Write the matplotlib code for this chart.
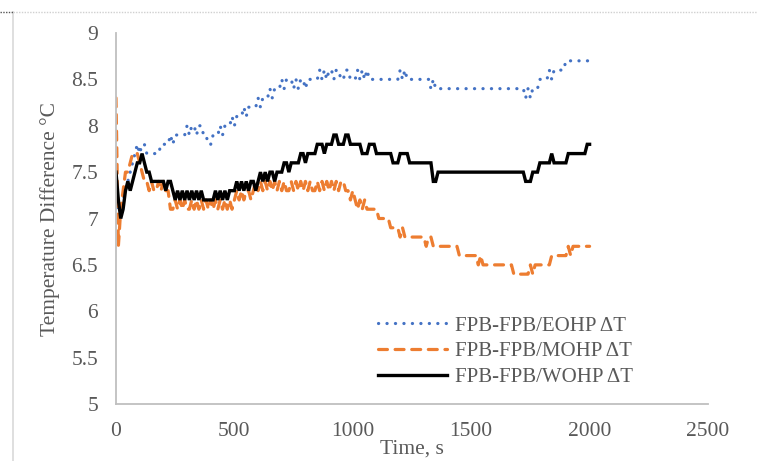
import matplotlib
matplotlib.use("Agg")
import matplotlib.pyplot as plt
from matplotlib.lines import Line2D

# Sampling instants (s)
time_s = list(range(0, 2001, 10))

# FPB-FPB/EOHP temperature difference (°C)
eohp_dt = [
    7.3, 7.1, 7.1, 7.2, 7.3, 7.4, 7.5, 7.6, 7.7, 7.8,
    7.7, 7.8, 7.8, 7.7, 7.7, 7.7, 7.7, 7.7, 7.7, 7.8,
    7.8, 7.8, 7.8, 7.9, 7.8, 7.9, 7.9, 7.9, 7.9, 7.9,
    8.0, 7.9, 8.0, 8.0, 7.9, 8.0, 8.0, 7.9, 7.9, 7.8,
    7.8, 7.9, 7.9, 7.9, 8.0, 7.9, 8.0, 8.0, 8.0, 8.1,
    8.0, 8.1, 8.1, 8.1, 8.2, 8.1, 8.2, 8.2, 8.2, 8.2,
    8.3, 8.2, 8.3, 8.3, 8.3, 8.4, 8.3, 8.4, 8.4, 8.4,
    8.5, 8.4, 8.5, 8.5, 8.5, 8.4, 8.5, 8.4, 8.5, 8.5,
    8.4, 8.5, 8.5, 8.5, 8.5, 8.5, 8.6, 8.5, 8.6, 8.5,
    8.6, 8.6, 8.5, 8.6, 8.6, 8.5, 8.5, 8.6, 8.6, 8.5,
    8.5, 8.5, 8.6, 8.5, 8.6, 8.5, 8.6, 8.5, 8.5, 8.5,
    8.5, 8.5, 8.5, 8.5, 8.5, 8.5, 8.5, 8.5, 8.5, 8.5,
    8.6, 8.5, 8.6, 8.5, 8.5, 8.5, 8.5, 8.5, 8.5, 8.5,
    8.5, 8.5, 8.5, 8.4, 8.5, 8.4, 8.4, 8.4, 8.4, 8.4,
    8.4, 8.4, 8.4, 8.4, 8.4, 8.4, 8.4, 8.4, 8.4, 8.4,
    8.4, 8.4, 8.4, 8.4, 8.4, 8.4, 8.4, 8.4, 8.4, 8.4,
    8.4, 8.4, 8.4, 8.4, 8.4, 8.4, 8.4, 8.4, 8.4, 8.4,
    8.4, 8.4, 8.4, 8.3, 8.4, 8.3, 8.4, 8.4, 8.4, 8.5,
    8.5, 8.5, 8.5, 8.6, 8.5, 8.6, 8.6, 8.6, 8.6, 8.6,
    8.7, 8.7, 8.7, 8.7, 8.7, 8.7, 8.7, 8.7, 8.7, 8.7,
    8.7,
]

# FPB-FPB/MOHP temperature difference (°C)
mohp_dt = [
    8.3, 6.7, 7.1, 7.3, 7.5, 7.5, 7.6, 7.7, 7.7, 7.7,
    7.6, 7.5, 7.4, 7.4, 7.3, 7.4, 7.3, 7.3, 7.4, 7.3,
    7.4, 7.3, 7.3, 7.1, 7.1, 7.2, 7.1, 7.2, 7.1, 7.2,
    7.1, 7.1, 7.2, 7.1, 7.2, 7.1, 7.2, 7.1, 7.2, 7.1,
    7.2, 7.1, 7.2, 7.1, 7.2, 7.1, 7.2, 7.1, 7.2, 7.1,
    7.2, 7.3, 7.2, 7.3, 7.2, 7.3, 7.3, 7.2, 7.3, 7.4,
    7.3, 7.4, 7.3, 7.4, 7.3, 7.4, 7.3, 7.4, 7.3, 7.4,
    7.3, 7.4, 7.3, 7.3, 7.4, 7.3, 7.4, 7.3, 7.4, 7.3,
    7.4, 7.3, 7.4, 7.3, 7.3, 7.4, 7.3, 7.4, 7.3, 7.4,
    7.3, 7.4, 7.3, 7.4, 7.3, 7.4, 7.4, 7.3, 7.3, 7.2,
    7.3, 7.2, 7.1, 7.2, 7.1, 7.2, 7.1, 7.1, 7.1, 7.1,
    7.1, 7.0, 7.0, 7.0, 7.0, 7.0, 6.9, 6.9, 6.9, 6.9,
    6.8, 6.9, 6.8, 6.8, 6.8, 6.8, 6.8, 6.8, 6.8, 6.8,
    6.8, 6.7, 6.8, 6.8, 6.7, 6.7, 6.7, 6.7, 6.7, 6.7,
    6.7, 6.7, 6.7, 6.7, 6.7, 6.6, 6.6, 6.6, 6.6, 6.6,
    6.6, 6.6, 6.6, 6.5, 6.6, 6.5, 6.5, 6.5, 6.5, 6.5,
    6.5, 6.5, 6.5, 6.5, 6.5, 6.5, 6.5, 6.5, 6.4, 6.4,
    6.4, 6.4, 6.4, 6.4, 6.4, 6.5, 6.4, 6.5, 6.5, 6.5,
    6.5, 6.5, 6.5, 6.5, 6.6, 6.6, 6.6, 6.6, 6.6, 6.6,
    6.6, 6.7, 6.6, 6.7, 6.7, 6.7, 6.7, 6.7, 6.7, 6.7,
    6.7,
]

# FPB-FPB/WOHP temperature difference (°C)
wohp_dt = [
    7.5, 7.2, 7.0, 7.1, 7.3, 7.4, 7.3, 7.4, 7.5, 7.6,
    7.6, 7.7, 7.6, 7.5, 7.5, 7.4, 7.4, 7.4, 7.4, 7.4,
    7.4, 7.3, 7.4, 7.4, 7.3, 7.2, 7.3, 7.2, 7.3, 7.2,
    7.3, 7.2, 7.3, 7.2, 7.3, 7.2, 7.3, 7.2, 7.2, 7.2,
    7.2, 7.2, 7.3, 7.2, 7.3, 7.2, 7.3, 7.2, 7.3, 7.3,
    7.3, 7.4, 7.3, 7.4, 7.3, 7.4, 7.3, 7.4, 7.4, 7.3,
    7.4, 7.5, 7.4, 7.5, 7.4, 7.5, 7.5, 7.4, 7.5, 7.5,
    7.5, 7.6, 7.6, 7.5, 7.6, 7.6, 7.6, 7.6, 7.7, 7.7,
    7.6, 7.7, 7.7, 7.7, 7.7, 7.8, 7.8, 7.8, 7.7, 7.8,
    7.8, 7.8, 7.9, 7.9, 7.8, 7.8, 7.8, 7.9, 7.9, 7.8,
    7.8, 7.8, 7.8, 7.8, 7.7, 7.7, 7.7, 7.8, 7.8, 7.8,
    7.7, 7.7, 7.7, 7.7, 7.7, 7.7, 7.7, 7.6, 7.6, 7.6,
    7.7, 7.7, 7.7, 7.7, 7.6, 7.6, 7.6, 7.6, 7.6, 7.6,
    7.6, 7.6, 7.6, 7.6, 7.4, 7.4, 7.5, 7.5, 7.5, 7.5,
    7.5, 7.5, 7.5, 7.5, 7.5, 7.5, 7.5, 7.5, 7.5, 7.5,
    7.5, 7.5, 7.5, 7.5, 7.5, 7.5, 7.5, 7.5, 7.5, 7.5,
    7.5, 7.5, 7.5, 7.5, 7.5, 7.5, 7.5, 7.5, 7.5, 7.5,
    7.5, 7.5, 7.5, 7.4, 7.4, 7.4, 7.5, 7.5, 7.5, 7.6,
    7.6, 7.6, 7.6, 7.6, 7.7, 7.6, 7.6, 7.6, 7.6, 7.6,
    7.6, 7.7, 7.7, 7.7, 7.7, 7.7, 7.7, 7.7, 7.7, 7.8,
    7.8,
]

series_labels = ["FPB-FPB/EOHP ΔT", "FPB-FPB/MOHP ΔT", "FPB-FPB/WOHP ΔT"]
x_ticks = [0, 500, 1000, 1500, 2000, 2500]
y_ticks = [5, 5.5, 6, 6.5, 7, 7.5, 8, 8.5, 9]
y_tick_labels = ["5", "5.5", "6", "6.5", "7", "7.5", "8", "8.5", "9"]

TEXT = "#595959"
FONT = ["Liberation Serif", "DejaVu Serif"]
plt.rcParams["font.family"] = FONT

fig = plt.figure(figsize=(7.57, 4.61), dpi=100)
W, H = 757, 461

# chart-area frame lines
fig.add_artist(Line2D([13 / W, 13 / W], [0, 1 - 12 / H], transform=fig.transFigure,
                      color="#d9d9d9", lw=1.2))
fig.add_artist(Line2D([13 / W, 1], [1 - 12 / H, 1 - 12 / H], transform=fig.transFigure,
                      color="#d0d0d0", lw=1.0, linestyle=(0, (1, 1))))
fig.add_artist(Line2D([0, 13 / W], [1 - 12 / H, 1 - 12 / H], transform=fig.transFigure,
                      color="#555555", lw=1.0, linestyle=(0, (1, 1))))

ax = fig.add_axes([116 / W, 1 - 404 / H, (708 - 116) / W, (404 - 33) / H])

l1, = ax.plot(time_s, eohp_dt, color="#4472C4", lw=2.3,
              linestyle=(0, (0.05, 2.6)), dash_capstyle="round",
              label=series_labels[0])
l2, = ax.plot(time_s, mohp_dt, color="#ED7D31", lw=2.3,
              linestyle=(0, (2.8, 2.4)), dash_capstyle="round",
              label=series_labels[1])
l3, = ax.plot(time_s, wohp_dt, color="black", lw=2.4,
              solid_joinstyle="miter", label=series_labels[2])

ax.set_xlim(0, 2500)
ax.set_ylim(5, 9)
ax.set_xticks(x_ticks)
ax.set_xticklabels([str(v) for v in x_ticks])
ax.set_yticks(y_ticks)
ax.set_yticklabels(y_tick_labels)

for side in ("top", "right"):
    ax.spines[side].set_visible(False)
for side in ("left", "bottom"):
    ax.spines[side].set_color("#bfbfbf")
    ax.spines[side].set_linewidth(1.3)

ax.tick_params(axis="both", length=0, labelsize=15.5, colors=TEXT)
ax.tick_params(axis="x", pad=13)
ax.tick_params(axis="y", pad=13)

ax.set_xlabel("Time, s", fontsize=15.5, color=TEXT, labelpad=-1)
ax.set_ylabel("Temperature Difference °C", fontsize=15.5, color=TEXT, labelpad=8)

leg = fig.legend(handles=[l1, l2, l3], loc="upper left",
                 bbox_to_anchor=(378 / W, 1 - 316 / H),
                 frameon=False, fontsize=15, handlelength=3.3,
                 handletextpad=0.4, labelspacing=0.3, borderpad=0,
                 borderaxespad=0)
for t in leg.get_texts():
    t.set_color(TEXT)

fig.savefig("out.png", dpi=100)
